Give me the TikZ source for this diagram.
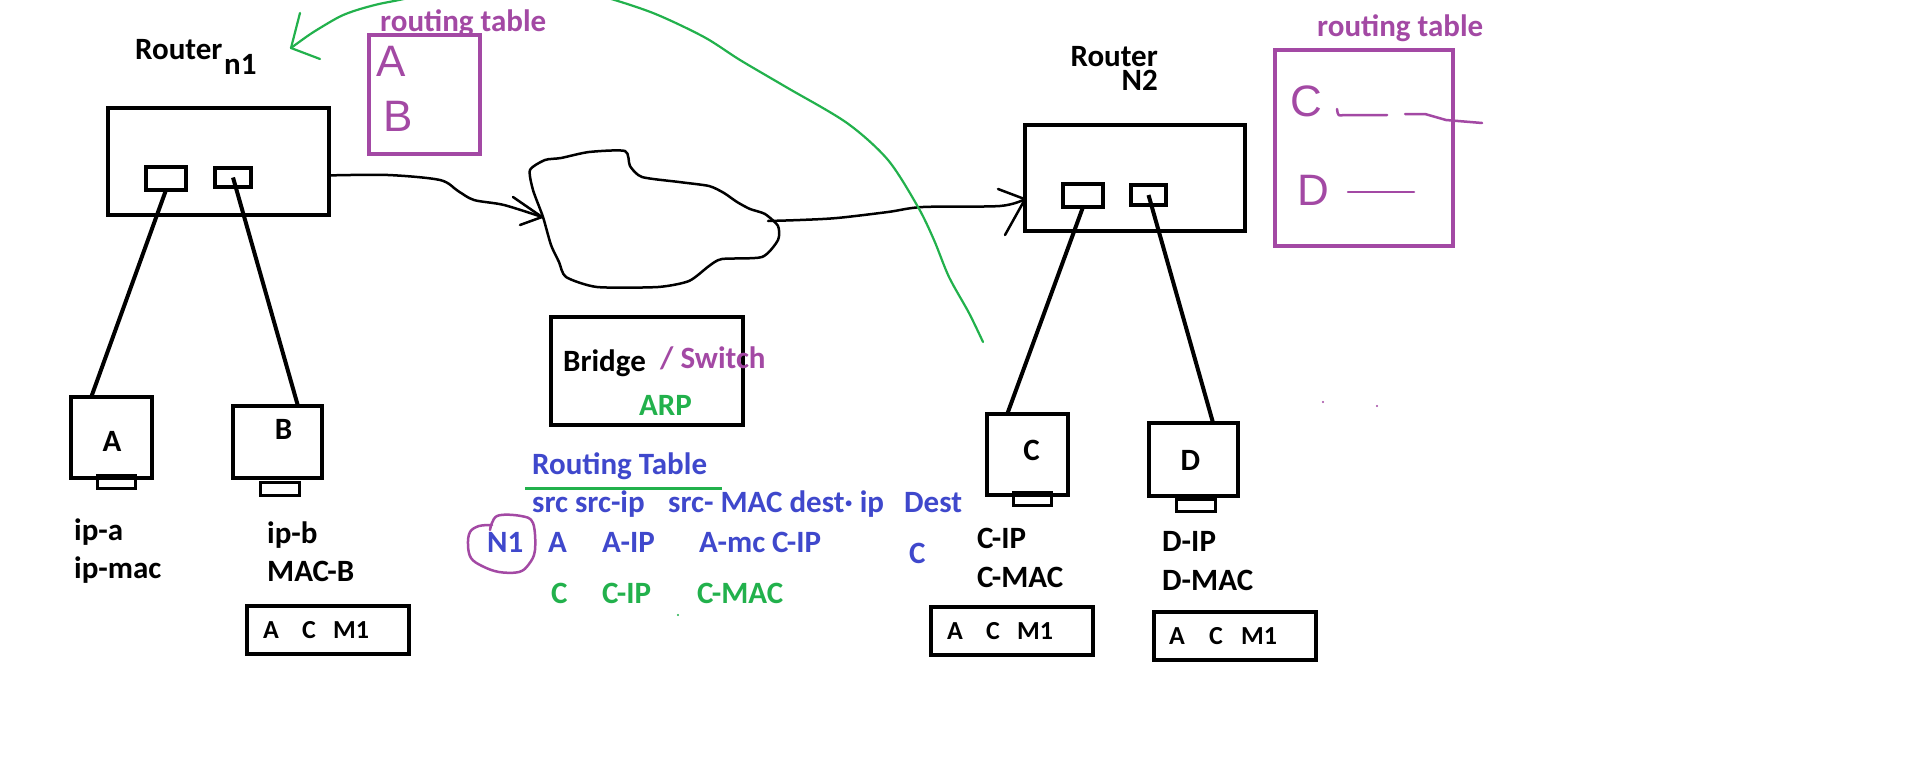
\documentclass[tikz,border=0pt]{standalone}
\usepackage{fontspec}
\setmainfont{Carlito}
\newfontfamily\handfont{Liberation Sans}
\usetikzlibrary{calc}
\definecolor{ppl}{HTML}{A349A4}
\definecolor{grn}{HTML}{22B14C}
\definecolor{blu}{HTML}{3F48CC}
\begin{document}
\begin{tikzpicture}[x=1pt,y=-1pt,
 box/.style={draw=black,line width=4.5pt,inner sep=0pt,outer sep=0pt},
 port/.style={draw=black,line width=4pt,inner sep=0pt,outer sep=0pt},
 foot/.style={draw=black,line width=3.5pt,inner sep=0pt,outer sep=0pt},
 tbl/.style={draw=black,line width=4pt,inner sep=0pt,outer sep=0pt},
 pbox/.style={draw=ppl,line width=4pt,inner sep=0pt,outer sep=0pt},
 txt/.style={anchor=base west,inner sep=0pt,font=\fontsize{31}{36}\selectfont\bfseries},
 ctxt/.style={anchor=base,inner sep=0pt,font=\fontsize{31}{36}\selectfont\bfseries},
 stxt/.style={anchor=base west,inner sep=0pt,font=\fontsize{26}{30}\selectfont\bfseries},
 hand/.style={text=ppl,inner sep=0pt,font=\handfont\fontsize{44}{48}\selectfont},
 cable/.style={line width=4pt},
 wire/.style={line width=2.5pt,line cap=round,line join=round},
 pline/.style={draw=ppl,line width=2.5pt,line cap=round,line join=round},
]
\useasboundingbox (0,0) rectangle (1914,763);
\fill[white] (0,0) rectangle (1914,763);
\clip (0,0) rectangle (1914,763);

% Router n1
\node[txt] (r1lab) at (135,59) {Router};
\node[txt] (r1sub) at (224,74) {n1};
\node[box,minimum width=221pt,minimum height=107pt] (r1) at (218.5,161.5) {};
\node[port,minimum width=40pt,minimum height=23pt] (p1a) at (166,178.5) {};
\node[port,minimum width=36pt,minimum height=19pt] (p1b) at (233,177.5) {};

% routing table 1
\node[txt,text=ppl] (rt1lab) at (380,31) {routing table};
\node[pbox,minimum width=111pt,minimum height=119pt] (rt1) at (424.5,94.5) {};
\node[hand] (rt1a) at (391,61) {A};
\node[hand] (rt1b) at (398,116) {B};

% Router N2
\node[anchor=base east,inner sep=0pt,font=\fontsize{31}{36}\selectfont\bfseries] (r2lab) at (1158,66)
  {\begin{tabular}[t]{@{}r@{}}Router\\[-12pt]N2\end{tabular}};
\node[box,minimum width=220pt,minimum height=106pt] (r2) at (1135,178) {};
\node[port,minimum width=40pt,minimum height=23pt] (p2a) at (1083,195.5) {};
\node[port,minimum width=35pt,minimum height=20pt] (p2b) at (1148.5,195) {};

% routing table 2
\node[txt,text=ppl] (rt2lab) at (1317,36) {routing table};
\node[pbox,minimum width=178pt,minimum height=196pt] (rt2) at (1364,148) {};
\node[hand] (rt2c) at (1306,101) {C};
\node[hand] (rt2d) at (1313,190) {D};
\draw[pline] (1337,109) .. controls (1338,116) .. (1344,115) -- (1387,115);
\draw[pline] (1405,114) -- (1425,114) -- (1446,120) -- (1482,123);
\draw[pline] (1348,192) -- (1414,192);

% hosts
\node[box,line width=4pt,minimum width=81pt,minimum height=81pt] (A) at (111.5,437.5) {};
\node[foot,minimum width=38pt,minimum height=13pt] (Af) at (116.5,482) {};
\node[ctxt] (Alab) at (112,451) {A};
\node[box,line width=4pt,minimum width=89pt,minimum height=72pt] (B) at (277.5,442) {};
\node[foot,minimum width=39pt,minimum height=13pt] (Bf) at (280,489) {};
\node[ctxt] (Blab) at (283.5,439) {B};
\node[box,line width=4pt,minimum width=81pt,minimum height=81pt] (C) at (1027.5,454.5) {};
\node[foot,minimum width=38pt,minimum height=13pt] (Cf) at (1032.5,499) {};
\node[ctxt] (Clab) at (1031.5,460) {C};
\node[box,line width=4pt,minimum width=89pt,minimum height=73pt] (D) at (1193.5,459.5) {};
\node[foot,minimum width=39pt,minimum height=12pt] (Df) at (1196,505.5) {};
\node[ctxt] (Dlab) at (1190.5,470) {D};

% cables
\draw[cable] (p1a.south) -- ($(A.north west)!0.25!(A.north east)$);
\draw[cable] (p1b.center) -- ($(B.north west)!0.73!(B.north east)$);
\draw[cable] (p2a.south) -- ($(C.north west)!0.25!(C.north east)$);
\draw[cable] (p2b.center) -- ($(D.north west)!0.72!(D.north east)$);

% host labels
\node[txt] (ipa) at (74,540) {ip-a};
\node[txt] (ipmac) at (74,578) {ip-mac};
\node[txt] (ipb) at (267,543) {ip-b};
\node[txt] (macb) at (267,581) {MAC-B};
\node[txt] (cip) at (977,548) {C-IP};
\node[txt] (cmac) at (977,587) {C-MAC};
\node[txt] (dip) at (1162,551) {D-IP};
\node[txt] (dmac) at (1162,590) {D-MAC};

% small tables
\node[tbl,minimum width=162pt,minimum height=48pt] (tB) at (328,630) {};
\node[stxt] (tBa) at (263,638) {A};
\node[stxt] (tBc) at (302,638) {C};
\node[stxt] (tBm) at (333,638) {M1};
\node[tbl,minimum width=162pt,minimum height=48pt] (tC) at (1012,631) {};
\node[stxt] (tCa) at (947,639) {A};
\node[stxt] (tCc) at (986,639) {C};
\node[stxt] (tCm) at (1017,639) {M1};
\node[tbl,minimum width=162pt,minimum height=48pt] (tD) at (1235,636) {};
\node[stxt] (tDa) at (1169,644) {A};
\node[stxt] (tDc) at (1209,644) {C};
\node[stxt] (tDm) at (1241,644) {M1};

% cloud
\draw[line width=2.5pt,line join=round] plot[smooth cycle,tension=0.4] coordinates {
 (530,170) (545,160) (561,158) (589,152) (625,151) (630,166) (642,177) (679,182)
 (709,186) (724,193) (737,202) (750,209) (765,214) (778,226) (778,240) (762,257)
 (722,259) (709,266) (689,281) (658,287) (597,287) (566,277) (559,262) (551,245)
 (543,217) (533,190)};
\coordinate (cloudW) at (542,217);
\coordinate (cloudE) at (768,221);

% arrow router1 -> cloud
\coordinate (r1out) at ($(r1.north east)!0.63!(r1.south east)$);
\draw[wire] plot[smooth,tension=0.5] coordinates {(r1out) (388,175) (440,180) (458,191) (474,200) (504,205) (cloudW)};
\draw[wire] (cloudW) -- (513,197);
\draw[wire] (cloudW) -- (520,225);

% arrow cloud -> router2
\coordinate (r2in) at ($(r2.north west)!0.70!(r2.south west)$);
\draw[wire] plot[smooth,tension=0.5] coordinates {(cloudE) (800,220) (837,218) (888,212) (923,207) (1000,206) (r2in)};
\draw[wire] (r2in) -- (998,189);
\draw[wire] (r2in) -- (1005,235);

% bridge
\node[box,minimum width=192pt,minimum height=108pt] (br) at (647,371) {};
\node[txt] (brlab) at (563,371) {Bridge};
\node[txt,text=ppl] (swlab) at (660,368) {/ Switch};
\node[txt,text=grn] (arp) at (639,415) {ARP};

% routing table (blue)
\node[txt,text=blu] (rtb) at (532,474) {Routing Table};
\draw[grn,line width=3pt] (525,488) -- (722,488);
\node[txt,text=blu] (h1) at (532,512) {src src-ip};
\node[txt,text=blu] (h2) at (668,512) {src- MAC dest· ip};
\node[txt,text=blu] (h3) at (904,512) {Dest};
\node[txt,text=blu] (n1) at (487,552) {N1};
\node[txt,text=blu] (r1c1) at (548,552) {A};
\node[txt,text=blu] (r1c2) at (602,552) {A-IP};
\node[txt,text=blu] (r1c3) at (699,552) {A-mc C-IP};
\node[txt,text=blu] (r1c4) at (909,563) {C};
\node[txt,text=grn] (r2c1) at (551,603) {C};
\node[txt,text=grn] (r2c2) at (602,603) {C-IP};
\node[txt,text=grn] (r2c3) at (697,603) {C-MAC};
\draw[pline] plot[smooth,tension=0.6] coordinates {(490,530) (497,516) (521,516) (533,523) (535,550) (529,564) (519,572) (499,572) (482,566) (471,558) (468,545) (470,532) (479,526) (492,525)};

% specks
\fill[grn] (678,615) circle (1.2);
\fill[ppl] (1323,402) circle (1.2);
\fill[ppl] (1377,406) circle (1.2);

% green curve
\coordinate (gtip) at (291,48);
\coordinate (gend) at (983,342);
\draw[grn,line width=2.2pt,line cap=round,line join=round] plot[smooth,tension=0.5] coordinates {(gend) (969,313) (949,277) (934,240) (918,207) (888,160) (847,123) (786,87) (740,60) (704,37) (653,13) (598,-5) (540,-20) (470,-18) (408,-2) (379,4) (357,10) (339,17) (312,33) (gtip)};
\draw[grn,line width=2.2pt,line cap=round] (gtip) -- (300,13);
\draw[grn,line width=2.2pt,line cap=round] (gtip) -- (320,59);
\end{tikzpicture}
\end{document}
